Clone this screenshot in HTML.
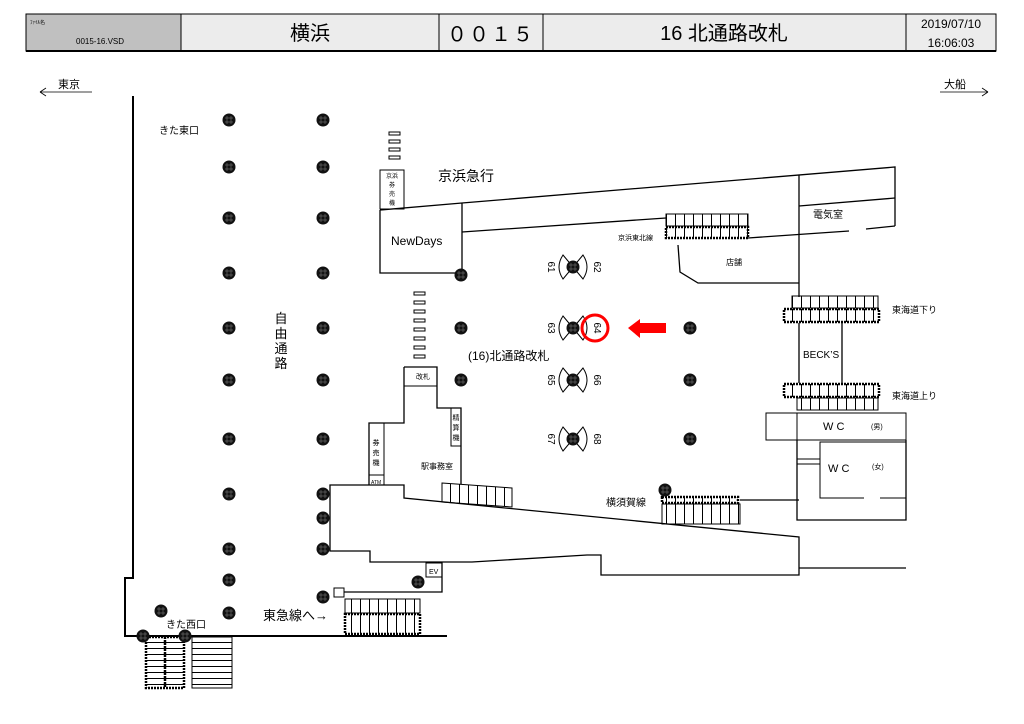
<!DOCTYPE html>
<html><head><meta charset="utf-8"><style>
html,body{margin:0;padding:0;background:#fff;}
svg{display:block;font-family:"Liberation Sans","Noto Sans CJK JP",sans-serif;}
</style></head><body>
<svg width="1024" height="724" viewBox="0 0 1024 724" xmlns="http://www.w3.org/2000/svg">
<defs>
<pattern id="st" x="0" y="0" width="9" height="10" patternUnits="userSpaceOnUse"><line x1="0.5" y1="0" x2="0.5" y2="10" stroke="#000" stroke-width="1"/></pattern>
<pattern id="stv" x="0" y="0" width="10" height="6" patternUnits="userSpaceOnUse"><line x1="0" y1="0.5" x2="10" y2="0.5" stroke="#000" stroke-width="1"/></pattern>
<g id="c"><circle r="6.5" fill="#111"/><path d="M-4 -2H4M-4 2H4M-2 -4V4M2 -4V4" stroke="#666" stroke-width="0.7"/></g>
<g id="lamp"><path d="M0 0L-10 -12Q-18 0 -10 12Z M0 0L10 -12Q18 0 10 12Z" fill="#fff" stroke="#000" stroke-width="1"/><use href="#c"/></g>
</defs>

<rect x="26" y="14" width="155" height="37" fill="#c0c0c0"/>
<rect x="181" y="14" width="815" height="37" fill="#ececec"/>
<rect x="26" y="14" width="970" height="37" fill="none" stroke="#000" stroke-width="1"/>
<line x1="26" y1="51" x2="996" y2="51" stroke="#000" stroke-width="2"/>
<line x1="181" y1="14" x2="181" y2="51" stroke="#000"/>
<line x1="439" y1="14" x2="439" y2="51" stroke="#000"/>
<line x1="543" y1="14" x2="543" y2="51" stroke="#000"/>
<line x1="906" y1="14" x2="906" y2="51" stroke="#000"/>
<text x="30" y="24" font-size="5">ﾌｧｲﾙ名</text>
<text x="76" y="44" font-size="8">0015-16.VSD</text>
<text x="310" y="40" font-size="20" text-anchor="middle">横浜</text>
<text x="491" y="41" font-size="20" text-anchor="middle" letter-spacing="2">００１５</text>
<text x="724" y="40" font-size="20" text-anchor="middle">16 北通路改札</text>
<text x="951" y="28" font-size="12" text-anchor="middle">2019/07/10</text>
<text x="951" y="47" font-size="12" text-anchor="middle">16:06:03</text>

<text x="58" y="88" font-size="11">東京</text>
<path d="M40 92H92M40 92l6 -4M40 92l6 4" stroke="#000" fill="none" stroke-width="0.8"/>
<text x="944" y="88" font-size="11">大船</text>
<path d="M940 92H988M988 92l-6 -4M988 92l-6 4" stroke="#000" fill="none" stroke-width="0.8"/>

<g stroke="#000" fill="none" stroke-width="1.3">
<path d="M133 96V578H125V636H447" stroke-width="2"/>
<rect x="380" y="170" width="24" height="39" stroke-width="1"/>
<path d="M380 210L462 203L895 167V226M380 210V273H462V203"/>
<path d="M462 232L666 218"/>
<path d="M748 238L849 231M866 229L895 226"/>
<path d="M799 206L895 198M799 175V297"/>
<path d="M678 245L680 272L698 283H799"/>
<path d="M404 367H437V408H461V484"/>
<path d="M404 386H437" stroke-width="1"/>
<path d="M404 367V423H369V485H330V551H370V562H472L587 555H601V575H799V537L404 498V485H330"/>
<rect x="451" y="408" width="10" height="38" stroke-width="1"/>
<rect x="369" y="423" width="15" height="52" stroke-width="1"/>
<rect x="369" y="475" width="15" height="10" stroke-width="1"/>
<path d="M799 568H906"/>
<path d="M442 562V592H344"/>
<rect x="426" y="563" width="16" height="14" stroke-width="1"/>
<rect x="334" y="588" width="10" height="9" stroke-width="1"/>
<path d="M740 500H799"/>
<rect x="766" y="413" width="31" height="27" stroke-width="1"/>
<rect x="797" y="413" width="109" height="27" stroke-width="1"/>
<path d="M797 440V520H906V440"/>
<path d="M864 498H820V442H906V498H880" stroke-width="1"/>
<rect x="797" y="459" width="23" height="5" stroke-width="1"/>
<path d="M799 323V383M842 323V383"/>
</g>

<g stroke="#000" stroke-width="1">
<rect x="666" y="214" width="82" height="12" fill="url(#st)"/>
<rect x="666" y="227" width="82" height="11" fill="url(#st)" stroke-width="2.5" stroke-dasharray="2 1"/>
<rect x="792" y="296" width="86" height="12" fill="url(#st)"/>
<rect x="784" y="309" width="95" height="13" fill="url(#st)" stroke-width="2.5" stroke-dasharray="2 1"/>
<rect x="784" y="384" width="95" height="13" fill="url(#st)" stroke-width="2.5" stroke-dasharray="2 1"/>
<rect x="797" y="398" width="81" height="12" fill="url(#st)"/>
<polygon points="442,483 512,488 512,507 442,502" fill="url(#st)"/>
<rect x="662" y="497" width="76" height="6" fill="url(#st)" stroke-width="2.5" stroke-dasharray="2 1"/>
<rect x="662" y="504" width="78" height="20" fill="url(#st)"/>
<rect x="345" y="599" width="75" height="14" fill="url(#st)"/>
<rect x="345" y="614" width="75" height="20" fill="url(#st)" stroke-width="2.5" stroke-dasharray="2 1"/>
<rect x="146" y="637" width="38" height="51" fill="url(#stv)" stroke-width="2.5" stroke-dasharray="2 1"/>
<line x1="165" y1="637" x2="165" y2="688" stroke-width="2.5" stroke-dasharray="2 1"/>
<rect x="192" y="637" width="40" height="51" fill="url(#stv)"/>
</g>
<g fill="#fff" stroke="#000" stroke-width="1">
<rect x="389" y="132" width="11" height="3"/><rect x="389" y="140" width="11" height="3"/><rect x="389" y="148" width="11" height="3"/><rect x="389" y="156" width="11" height="3"/>
<rect x="414" y="292" width="11" height="3"/><rect x="414" y="301" width="11" height="3"/><rect x="414" y="310" width="11" height="3"/><rect x="414" y="319" width="11" height="3"/><rect x="414" y="328" width="11" height="3"/><rect x="414" y="337" width="11" height="3"/><rect x="414" y="346" width="11" height="3"/><rect x="414" y="355" width="11" height="3"/>
</g>

<g>
<use href="#c" x="229" y="120"/><use href="#c" x="229" y="167"/><use href="#c" x="229" y="218"/><use href="#c" x="229" y="273"/><use href="#c" x="229" y="328"/><use href="#c" x="229" y="380"/><use href="#c" x="229" y="439"/><use href="#c" x="229" y="494"/><use href="#c" x="229" y="549"/><use href="#c" x="229" y="580"/><use href="#c" x="229" y="613"/>
<use href="#c" x="323" y="120"/><use href="#c" x="323" y="167"/><use href="#c" x="323" y="218"/><use href="#c" x="323" y="273"/><use href="#c" x="323" y="328"/><use href="#c" x="323" y="380"/><use href="#c" x="323" y="439"/><use href="#c" x="323" y="494"/><use href="#c" x="323" y="518"/><use href="#c" x="323" y="549"/><use href="#c" x="323" y="597"/>
<use href="#c" x="461" y="275"/><use href="#c" x="461" y="328"/><use href="#c" x="461" y="380"/>
<use href="#c" x="690" y="328"/><use href="#c" x="690" y="380"/><use href="#c" x="690" y="439"/>
<use href="#c" x="665" y="490"/><use href="#c" x="418" y="582"/>
<use href="#c" x="161" y="611"/><use href="#c" x="143" y="636"/><use href="#c" x="185" y="636"/>
<use href="#lamp" x="573" y="267"/><use href="#lamp" x="573" y="328"/><use href="#lamp" x="573" y="380"/><use href="#lamp" x="573" y="439"/>
</g>
<g font-size="10">
<text transform="translate(548,267) rotate(90)" text-anchor="middle">61</text>
<text transform="translate(594,267) rotate(90)" text-anchor="middle">62</text>
<text transform="translate(548,328) rotate(90)" text-anchor="middle">63</text>
<text transform="translate(594,328) rotate(90)" text-anchor="middle">64</text>
<text transform="translate(548,380) rotate(90)" text-anchor="middle">65</text>
<text transform="translate(594,380) rotate(90)" text-anchor="middle">66</text>
<text transform="translate(548,439) rotate(90)" text-anchor="middle">67</text>
<text transform="translate(594,439) rotate(90)" text-anchor="middle">68</text>
</g>
<circle cx="595" cy="328" r="13" fill="none" stroke="#f00" stroke-width="3"/>
<polygon points="628,328 640,319 640,323 666,323 666,333 640,333 640,338" fill="#f00"/>

<g fill="#000">
<text x="438" y="181" font-size="14">京浜急行</text>
<text x="391" y="245" font-size="12">NewDays</text>
<text x="618" y="240" font-size="7">京浜東北線</text>
<text x="726" y="265" font-size="8">店舗</text>
<text x="813" y="218" font-size="10">電気室</text>
<text x="892" y="313" font-size="9">東海道下り</text>
<text x="803" y="358" font-size="10">BECK’S</text>
<text x="892" y="399" font-size="9">東海道上り</text>
<text x="823" y="430" font-size="11">W C</text><text x="871" y="429" font-size="7">(男)</text>
<text x="828" y="472" font-size="11">W C</text><text x="872" y="469" font-size="7">(女)</text>
<text x="606" y="506" font-size="10">横須賀線</text>
<text x="468" y="360" font-size="12">(16)北通路改札</text>
<text x="421" y="469" font-size="8">駅事務室</text>
<text x="416" y="379" font-size="7">改札</text>
<text x="159" y="134" font-size="10">きた東口</text>
<text x="166" y="628" font-size="10">きた西口</text>
<text x="263" y="620" font-size="13">東急線へ→</text>
<text x="429" y="574" font-size="7">EV</text>
<text x="371" y="484" font-size="5">ATM</text>
<g font-size="13" text-anchor="middle"><text x="281" y="323">自</text><text x="281" y="338">由</text><text x="281" y="353">通</text><text x="281" y="368">路</text></g>
<g font-size="6" text-anchor="middle"><text x="392" y="178">京浜</text><text x="392" y="187">券</text><text x="392" y="196">売</text><text x="392" y="205">機</text></g>
<g font-size="7" text-anchor="middle"><text x="376" y="445">券</text><text x="376" y="455">売</text><text x="376" y="465">機</text></g>
<g font-size="7" text-anchor="middle"><text x="456" y="420">精</text><text x="456" y="430">算</text><text x="456" y="440">機</text></g>
</g>
</svg>
</body></html>
